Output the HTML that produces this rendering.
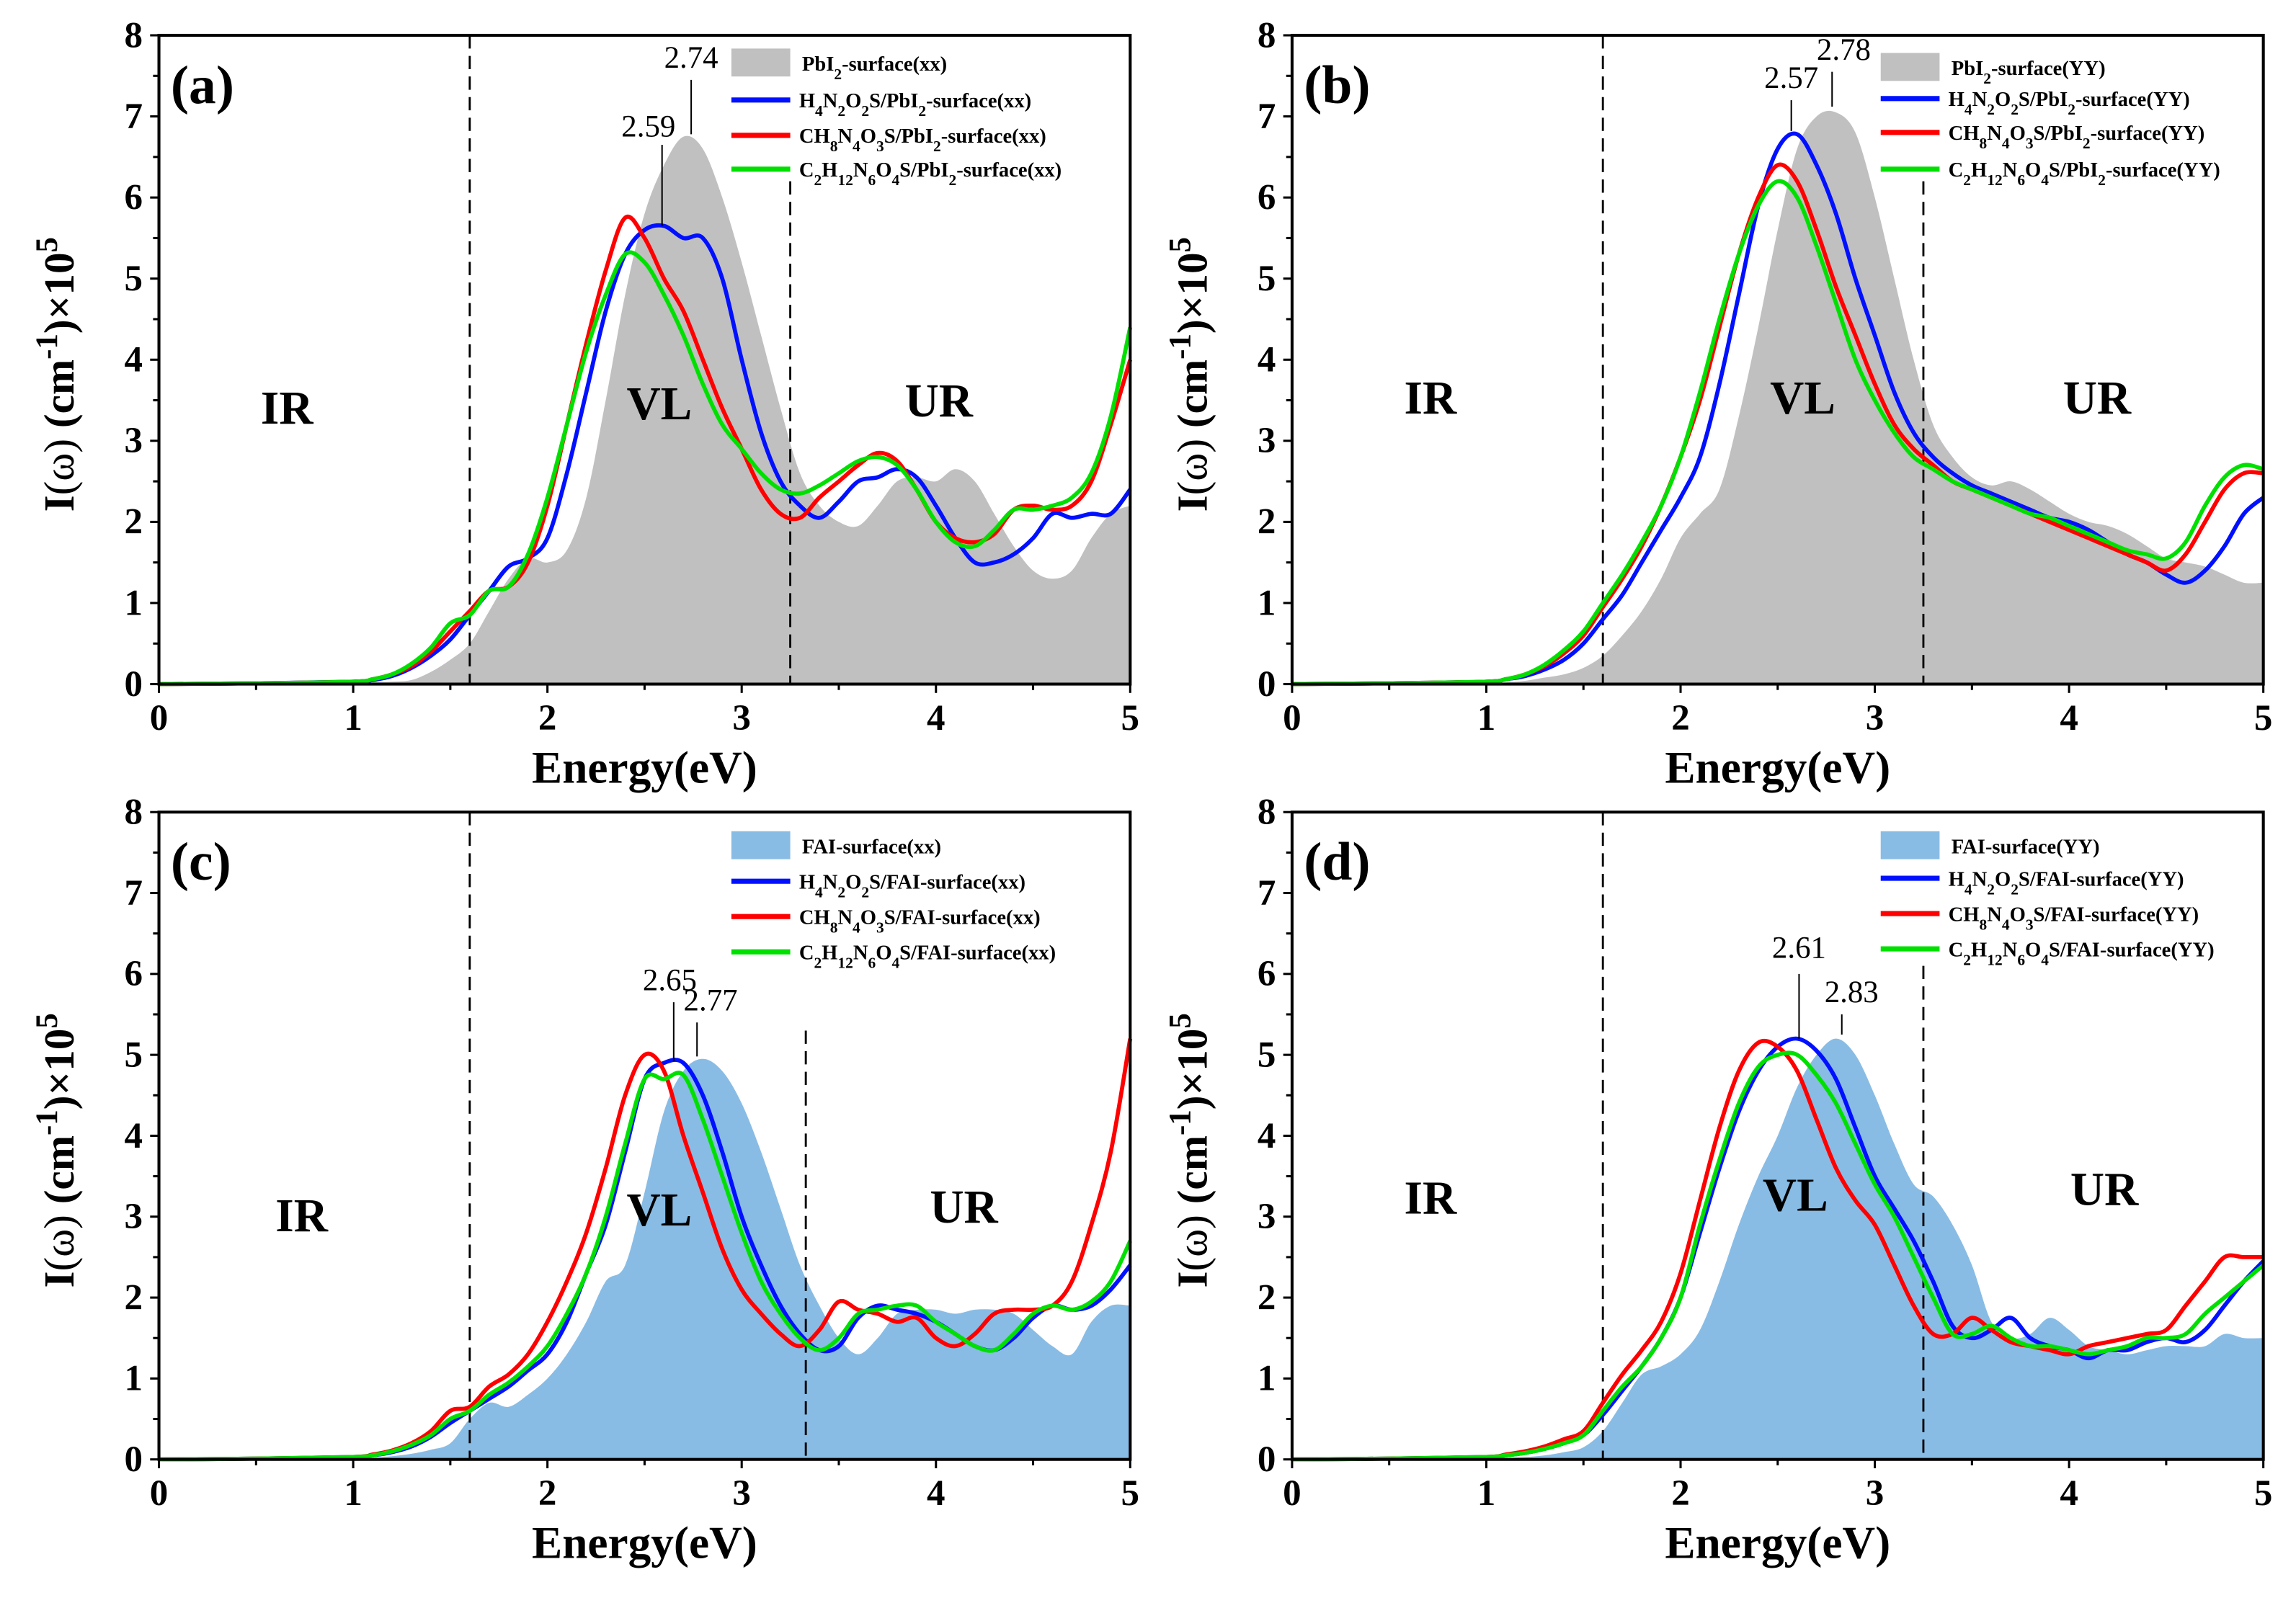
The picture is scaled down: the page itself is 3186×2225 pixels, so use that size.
<!DOCTYPE html>
<html><head><meta charset="utf-8">
<style>
html,body{margin:0;padding:0;background:#fff;}
svg{display:block;}
text{font-family:"Liberation Serif",serif;}
</style></head>
<body>
<svg id="fig" xmlns="http://www.w3.org/2000/svg" width="3186" height="2225" viewBox="0 0 1560.2 1089.6"></svg>
<script>
// Energy grid (eV)
const energy = [0,0.5,1.0,1.1,1.2,1.3,1.4,1.5,1.6,1.7,1.8,1.9,2.0,2.1,2.2,2.3,2.4,2.5,2.6,2.7,2.8,2.9,3.0,3.1,3.2,3.3,3.4,3.5,3.6,3.7,3.8,3.9,4.0,4.1,4.2,4.3,4.4,4.5,4.6,4.7,4.8,4.9,5.0];
const xTicks = [0,1,2,3,4,5];
const yTicks = [0,1,2,3,4,5,6,7,8];

// Panel (a)
const aFill  = [0,0,0.01,0.02,0.03,0.05,0.15,0.3,0.5,0.9,1.3,1.55,1.5,1.65,2.3,3.5,4.8,5.8,6.4,6.75,6.6,6.0,5.2,4.3,3.4,2.6,2.2,2.0,1.95,2.2,2.5,2.55,2.5,2.65,2.5,2.1,1.7,1.4,1.3,1.4,1.8,2.1,2.2];
const aBlue  = [0,0.01,0.03,0.05,0.1,0.2,0.35,0.55,0.85,1.15,1.45,1.55,1.8,2.6,3.6,4.6,5.3,5.6,5.65,5.5,5.5,5.0,4.0,3.1,2.5,2.2,2.05,2.25,2.5,2.55,2.65,2.55,2.2,1.8,1.5,1.5,1.6,1.8,2.1,2.05,2.1,2.1,2.4];
const aRed   = [0,0.01,0.03,0.06,0.12,0.22,0.4,0.65,0.9,1.15,1.2,1.5,2.2,3.2,4.2,5.1,5.75,5.5,5.0,4.6,4.0,3.4,2.9,2.4,2.1,2.05,2.3,2.5,2.7,2.85,2.75,2.4,2.0,1.8,1.75,1.85,2.15,2.2,2.15,2.2,2.5,3.2,4.0];
const aGreen = [0,0.01,0.03,0.06,0.12,0.25,0.45,0.75,0.85,1.15,1.2,1.6,2.3,3.2,4.1,4.8,5.3,5.2,4.8,4.3,3.7,3.2,2.9,2.6,2.4,2.35,2.45,2.6,2.75,2.8,2.7,2.4,2.0,1.75,1.7,1.9,2.15,2.15,2.2,2.3,2.6,3.3,4.4];
// Panel (b)
const bFill  = [0,0,0.01,0.02,0.04,0.08,0.12,0.2,0.35,0.6,0.9,1.3,1.8,2.1,2.4,3.3,4.4,5.6,6.6,7.0,7.05,6.8,6.0,5.0,4.0,3.2,2.8,2.55,2.45,2.5,2.4,2.25,2.1,2.0,1.95,1.85,1.7,1.55,1.5,1.45,1.35,1.25,1.25];
const bBlue  = [0,0.01,0.03,0.06,0.1,0.18,0.3,0.5,0.8,1.1,1.5,1.9,2.3,2.8,3.7,4.8,5.9,6.6,6.78,6.4,5.8,5.0,4.3,3.6,3.1,2.8,2.6,2.45,2.35,2.25,2.15,2.05,2.0,1.9,1.75,1.6,1.5,1.35,1.25,1.4,1.7,2.1,2.3];
const bRed   = [0,0.01,0.03,0.06,0.12,0.22,0.38,0.6,0.95,1.3,1.7,2.2,2.8,3.5,4.4,5.3,6.0,6.4,6.2,5.6,4.9,4.3,3.7,3.2,2.9,2.7,2.5,2.4,2.3,2.2,2.1,2.0,1.9,1.8,1.7,1.6,1.5,1.4,1.6,2.0,2.4,2.6,2.6];
const bGreen = [0,0.01,0.03,0.06,0.12,0.24,0.42,0.65,1.0,1.35,1.75,2.2,2.8,3.6,4.5,5.3,5.9,6.2,6.0,5.4,4.7,4.0,3.5,3.1,2.8,2.65,2.5,2.4,2.3,2.2,2.1,2.05,1.95,1.85,1.75,1.65,1.6,1.55,1.75,2.2,2.55,2.7,2.65];
// Panel (c)
const cFill  = [0,0,0.01,0.02,0.04,0.07,0.12,0.2,0.5,0.7,0.65,0.8,1.0,1.3,1.7,2.2,2.4,3.3,4.3,4.8,4.95,4.8,4.4,3.8,3.1,2.4,1.9,1.5,1.3,1.5,1.8,1.85,1.85,1.8,1.85,1.85,1.8,1.6,1.4,1.3,1.7,1.9,1.9];
const cBlue  = [0,0.01,0.03,0.05,0.09,0.16,0.28,0.45,0.6,0.75,0.9,1.1,1.3,1.7,2.3,2.9,3.8,4.7,4.9,4.9,4.5,3.8,3.0,2.4,1.9,1.55,1.35,1.4,1.75,1.9,1.85,1.8,1.7,1.55,1.4,1.35,1.5,1.75,1.9,1.85,1.9,2.1,2.4];
const cRed   = [0,0.01,0.03,0.06,0.11,0.2,0.35,0.6,0.65,0.9,1.05,1.3,1.7,2.2,2.8,3.6,4.5,5.0,4.8,4.0,3.3,2.6,2.1,1.8,1.55,1.4,1.6,1.95,1.85,1.8,1.7,1.75,1.5,1.4,1.55,1.8,1.85,1.85,1.9,2.2,2.9,3.8,5.2];
const cGreen = [0,0.01,0.03,0.05,0.1,0.18,0.3,0.5,0.6,0.8,0.95,1.15,1.4,1.8,2.3,3.0,3.9,4.7,4.7,4.75,4.2,3.5,2.8,2.2,1.8,1.5,1.35,1.5,1.8,1.85,1.9,1.9,1.7,1.55,1.4,1.35,1.55,1.8,1.9,1.85,1.95,2.2,2.7];
// Panel (d)
const dFill  = [0,0,0.01,0.02,0.03,0.05,0.09,0.15,0.35,0.7,1.05,1.15,1.3,1.6,2.2,2.9,3.5,4.0,4.6,5.0,5.2,5.0,4.5,3.9,3.4,3.25,2.9,2.4,1.7,1.5,1.55,1.75,1.6,1.4,1.35,1.3,1.35,1.4,1.4,1.4,1.55,1.5,1.5];
const dBlue  = [0,0.01,0.03,0.05,0.08,0.13,0.2,0.3,0.55,0.85,1.15,1.5,2.0,2.8,3.6,4.3,4.8,5.1,5.2,5.05,4.7,4.1,3.5,3.1,2.7,2.2,1.65,1.5,1.6,1.75,1.5,1.4,1.35,1.25,1.35,1.35,1.45,1.5,1.45,1.6,1.9,2.2,2.45];
const dRed   = [0,0.01,0.03,0.06,0.1,0.16,0.25,0.35,0.7,1.05,1.35,1.7,2.3,3.2,4.1,4.8,5.15,5.1,4.8,4.2,3.6,3.2,2.9,2.4,1.9,1.55,1.55,1.75,1.6,1.45,1.4,1.35,1.3,1.4,1.45,1.5,1.55,1.6,1.9,2.2,2.5,2.5,2.5];
const dGreen = [0,0.01,0.03,0.05,0.08,0.13,0.2,0.3,0.6,0.9,1.15,1.5,2.0,2.9,3.7,4.4,4.85,5.0,5.0,4.75,4.4,3.9,3.4,3.0,2.5,2.0,1.55,1.55,1.65,1.5,1.4,1.4,1.35,1.3,1.35,1.4,1.5,1.5,1.55,1.8,2.0,2.2,2.4];

const NS = "http://www.w3.org/2000/svg";
const svg = document.getElementById('fig');
function mk(tag, attrs, parent){
  const e = document.createElementNS(NS, tag);
  for (const k in attrs) e.setAttribute(k, attrs[k]);
  (parent||svg).appendChild(e);
  return e;
}
function chemText(parent, x, y, str, size){
  const t = mk('text', {x:x, y:y, 'font-size':size, 'font-weight':'bold', fill:'#000'}, parent);
  const parts = str.split(/(\d+)/);
  parts.forEach((p, i) => {
    if (!p) return;
    const ts = document.createElementNS(NS, 'tspan');
    if (/^\d+$/.test(p)) { ts.setAttribute('baseline-shift','sub'); ts.setAttribute('font-size', size*0.75); }
    ts.textContent = p;
    t.appendChild(ts);
  });
  return t;
}
function smoothPath(pts){
  let d = 'M' + pts[0][0].toFixed(2) + ',' + pts[0][1].toFixed(2);
  for (let i = 0; i < pts.length - 1; i++){
    const p0 = pts[Math.max(i-1,0)], p1 = pts[i], p2 = pts[i+1], p3 = pts[Math.min(i+2,pts.length-1)];
    const c1x = p1[0] + (p2[0]-p0[0])/6, c1y = p1[1] + (p2[1]-p0[1])/6;
    const c2x = p2[0] - (p3[0]-p1[0])/6, c2y = p2[1] - (p3[1]-p1[1])/6;
    d += ' C' + c1x.toFixed(2)+','+c1y.toFixed(2)+' '+c2x.toFixed(2)+','+c2y.toFixed(2)+' '+p2[0].toFixed(2)+','+p2[1].toFixed(2);
  }
  return d;
}

const panels = [
  {id:'a', L:108, T:24, B:465, fill:aFill, blue:aBlue, red:aRed, green:aGreen, fillColor:'#c0c0c0', sub:'PbI2-surface', pol:'(xx)',
   dash:[[1.6,8],[3.25,6.2]], peaks:[[2.59,5.65,6.65,2.52,6.75],[2.74,6.78,7.45,2.74,7.6]],
   lab:[[195,277],[448,274],[638,272]], legX:497, legY:[43,68,92,115]},
  {id:'b', L:878, T:24, B:465, fill:bFill, blue:bBlue, red:bRed, green:bGreen, fillColor:'#c0c0c0', sub:'PbI2-surface', pol:'(YY)',
   dash:[[1.6,8],[3.25,6.2]], peaks:[[2.57,6.82,7.2,2.57,7.35],[2.78,7.12,7.55,2.84,7.7]],
   lab:[[972,270],[1225,270],[1425,270]], legX:1278, legY:[46,67,90,115]},
  {id:'c', L:108, T:552, B:992, fill:cFill, blue:cBlue, red:cRed, green:cGreen, fillColor:'#88bce5', sub:'FAI-surface', pol:'(xx)',
   dash:[[1.6,8],[3.33,5.3]], peaks:[[2.65,4.92,5.65,2.63,5.8],[2.77,4.98,5.4,2.84,5.55]],
   lab:[[205,826],[448,822],[655,820]], legX:497, legY:[575,599,623,647]},
  {id:'d', L:878, T:552, B:992, fill:dFill, blue:dBlue, red:dRed, green:dGreen, fillColor:'#88bce5', sub:'FAI-surface', pol:'(YY)',
   dash:[[1.6,8],[3.25,6.1]], peaks:[[2.61,5.2,6.0,2.61,6.2],[2.83,5.25,5.5,2.88,5.65]],
   lab:[[972,814],[1220,812],[1430,808]], legX:1278, legY:[575,597,621,645]}
];
const W = 660;

panels.forEach(P => {
  const g = mk('g', {});
  
  
  const H = P.B - P.T;
  const xs = e => P.L + e / 5 * W;
  const ys = v => P.B - v / 8 * H;

  const fpts = energy.map((e,i) => [xs(e), ys(P.fill[i])]);
  const fd = smoothPath(fpts) + ' L' + xs(5) + ',' + ys(0) + ' L' + xs(0) + ',' + ys(0) + ' Z';
  const fa = mk('path', {d:fd, fill:P.fillColor, stroke:'none'}, g);
  
  

  P.dash.forEach((dv, k) => {
    const l = mk('line', {x1:xs(dv[0]), x2:xs(dv[0]), y1:ys(dv[1]), y2:ys(0), stroke:'#000', 'stroke-width':1.4, 'stroke-dasharray':'9,5'}, g);
    
    
  });

  [['blue','#0010ff'],['red','#ff0000'],['green','#00e000']].forEach(s => {
    const pts = energy.map((e,i) => [xs(e), ys(P[s[0]][i])]);
    const p = mk('path', {d:smoothPath(pts), fill:'none', stroke:s[1], 'stroke-width':2.8, 'stroke-linejoin':'round'}, g);
    
    
  });

  const fr = mk('rect', {x:P.L, y:P.T, width:W, height:H, fill:'none', stroke:'#000', 'stroke-width':2}, g);
  
  

  for (let e = 0; e <= 5.001; e += 0.5){
    const major = Math.abs(e - Math.round(e)) < 1e-6;
    mk('line', {x1:xs(e), x2:xs(e), y1:P.B, y2:P.B + (major?6:4), stroke:'#000', 'stroke-width':1.5}, g);
  }
  xTicks.forEach(v => {
    const t = mk('text', {x:xs(v), y:P.B + 31, 'font-size':25, 'font-weight':'bold', 'text-anchor':'middle'}, g);
    t.textContent = v;
    
    
  });
  for (let v = 0; v <= 8.001; v += 0.5){
    const major = Math.abs(v - Math.round(v)) < 1e-6;
    mk('line', {x1:P.L, x2:P.L - (major?6:4), y1:ys(v), y2:ys(v), stroke:'#000', 'stroke-width':1.5}, g);
  }
  yTicks.forEach(v => {
    const t = mk('text', {x:P.L - 11, y:ys(v) + 8, 'font-size':25, 'font-weight':'bold', 'text-anchor':'end'}, g);
    t.textContent = v;
    
    
  });

  const xt = mk('text', {x:P.L + 330, y:P.B + 67, 'font-size':31, 'font-weight':'bold', 'text-anchor':'middle'}, g);
  xt.textContent = 'Energy(eV)';
  
  
  const cy = (P.T + P.B) / 2 + 10;
  const yt = mk('text', {x:0, y:0, 'font-size':29, 'font-weight':'bold', 'text-anchor':'middle', transform:'translate(' + (P.L - 58) + ',' + cy + ') rotate(-90)'}, g);
  
  
  yt.innerHTML = 'I<tspan font-weight="normal">(ω)</tspan> (cm<tspan baseline-shift="super" font-size="21">-1</tspan>)×10<tspan baseline-shift="super" font-size="21">5</tspan>';

  const pl = mk('text', {x:P.L + 8, y:P.T + 46, 'font-size':37, 'font-weight':'bold'}, g);
  pl.textContent = '(' + P.id + ')';
  
  

  ['IR','VL','UR'].forEach((r, k) => {
    const t = mk('text', {x:P.lab[k][0], y:P.lab[k][1] + 11, 'font-size':32, 'font-weight':'bold', 'text-anchor':'middle'}, g);
    t.textContent = r;
    
    
  });

  P.peaks.forEach(pk => {
    const l = mk('line', {x1:xs(pk[0]), x2:xs(pk[0]), y1:ys(pk[1]), y2:ys(pk[2]), stroke:'#000', 'stroke-width':1}, g);
    
    
    const t = mk('text', {x:xs(pk[3]), y:ys(pk[4]), 'font-size':21, 'text-anchor':'middle'}, g);
    t.textContent = pk[0].toFixed(2);
    
    
  });

  const lg = mk('g', {}, g);
  
  
  const sw = mk('rect', {x:P.legX, y:P.legY[0] - 10, width:40, height:19, fill:P.fillColor}, lg);
  
  
  const names = [P.sub + P.pol, 'H4N2O2S/' + P.sub + P.pol, 'CH8N4O3S/' + P.sub + P.pol, 'C2H12N6O4S/' + P.sub + P.pol];
  const cols = [null, '#0010ff', '#ff0000', '#00e000'];
  names.forEach((nm, k) => {
    if (k > 0){
      const ln = mk('line', {x1:P.legX, x2:P.legX + 40, y1:P.legY[k], y2:P.legY[k], stroke:cols[k], 'stroke-width':3.5}, lg);
      
      
    }
    const t = chemText(lg, P.legX + (k === 0 ? 48 : 46), P.legY[k] + 5, nm, 14);
    
    
  });
});
</script>
</body></html>
